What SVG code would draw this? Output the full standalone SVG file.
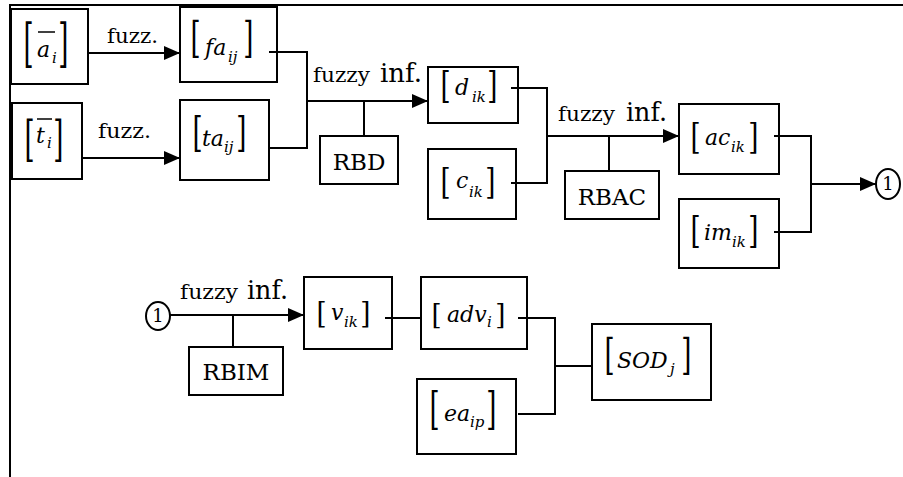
<svg xmlns="http://www.w3.org/2000/svg" width="903" height="477" viewBox="0 0 903 477">
<defs>
<style>
.bx{fill:none;stroke:#000;stroke-width:2}
.ln{fill:none;stroke:#000;stroke-width:2}
.bar{stroke:#000;stroke-width:1.5}
text{font-family:"DejaVu Serif",serif;fill:#000}
.m{font-style:italic;font-size:22px}
.s{font-size:15px}
.br{font-size:26px}
.lb{font-size:20px}
.inf{font-size:26px}
.rb{font-size:23px;text-anchor:middle}
.one{font-size:18px;text-anchor:middle}
</style>
<marker id="ah" markerUnits="userSpaceOnUse" markerWidth="16" markerHeight="14" refX="16" refY="7" orient="auto">
<path d="M0,0 L16,7 L0,14 z" fill="#000"/>
</marker>
</defs>
<rect width="903" height="477" fill="#fff"/>
<path class="ln" d="M10,477 V5 H903"/>

<g id="a_i">
<rect class="bx" x="11" y="9" width="77" height="75"/>
<text class="br" transform="translate(23.4,61.1) scale(1,2.026)">[</text>
<text class="br" transform="translate(58.2,61.1) scale(1,2.026)">]</text>
<line class="bar" x1="38" y1="32" x2="55" y2="32"/>
<text class="m" x="37" y="57">a<tspan class="s" x="52" y="63">i</tspan></text>
</g>

<g id="fa_ij">
<rect class="bx" x="180" y="7" width="97" height="75"/>
<text class="br" transform="translate(190.4,52.3) scale(1,1.681)">[</text>
<text class="br" transform="translate(243.2,52.3) scale(1,1.681)">]</text>
<text class="m" x="205" y="55">fa<tspan class="s" x="228" y="62">ij</tspan></text>
</g>

<g id="t_i">
<rect class="bx" x="12" y="103" width="70" height="76"/>
<text class="br" transform="translate(24.4,155.6) scale(1,1.897)">[</text>
<text class="br" transform="translate(53.2,155.6) scale(1,1.897)">]</text>
<line class="bar" x1="37" y1="119" x2="52" y2="119"/>
<text class="m" x="36" y="143">t<tspan class="s" x="47" y="148">i</tspan></text>
</g>

<g id="ta_ij">
<rect class="bx" x="180" y="100" width="89" height="80"/>
<text class="br" transform="translate(192.4,146.6) scale(1,1.595)">[</text>
<text class="br" transform="translate(236.2,146.6) scale(1,1.595)">]</text>
<text class="m" x="202" y="146">ta<tspan class="s" x="224" y="152">ij</tspan></text>
</g>

<g id="RBD">
<rect class="bx" x="320" y="136" width="78" height="48"/>
<text class="rb" x="359" y="170">RBD</text>
</g>

<g id="d_ik">
<rect class="bx" x="428" y="67" width="90" height="56"/>
<text class="br" transform="translate(440.4,98.2) scale(1,1.422)">[</text>
<text class="br" transform="translate(487.2,98.2) scale(1,1.422)">]</text>
<text class="m" x="455" y="95">d<tspan class="s" x="472" y="102">ik</tspan></text>
</g>

<g id="c_ik">
<rect class="bx" x="428" y="149" width="88" height="70"/>
<text class="br" transform="translate(440.4,193.5) scale(1,1.336)">[</text>
<text class="br" transform="translate(485.2,193.5) scale(1,1.336)">]</text>
<text class="m" x="456" y="188">c<tspan class="s" x="469" y="197">ik</tspan></text>
</g>

<g id="RBAC">
<rect class="bx" x="565" y="171" width="94" height="48"/>
<text class="rb" x="612" y="205">RBAC</text>
</g>

<g id="ac_ik">
<rect class="bx" x="679" y="104" width="100" height="70"/>
<text class="br" transform="translate(690.4,149.3) scale(1,1.379)">[</text>
<text class="br" transform="translate(748.2,149.3) scale(1,1.379)">]</text>
<text class="m" x="705" y="145">ac<tspan class="s" x="731" y="152">ik</tspan></text>
</g>

<g id="im_ik">
<rect class="bx" x="679" y="199" width="100" height="69"/>
<text class="br" transform="translate(690.4,243.2) scale(1,1.422)">[</text>
<text class="br" transform="translate(748.2,243.2) scale(1,1.422)">]</text>
<text class="m" x="704" y="240">im<tspan class="s" x="732" y="247">ik</tspan></text>
</g>

<g id="c1">
<ellipse class="bx" cx="888" cy="184" rx="12" ry="15"/>
<text class="one" x="888" y="190">1</text>
</g>

<g id="c2">
<ellipse class="bx" cx="158" cy="316" rx="12" ry="14"/>
<text class="one" x="158" y="322">1</text>
</g>

<g id="RBIM">
<rect class="bx" x="189" y="347" width="94" height="48"/>
<text class="rb" x="236" y="380">RBIM</text>
</g>

<g id="v_ik">
<rect class="bx" x="304" y="277" width="88" height="72"/>
<text class="br" transform="translate(316.4,323) scale(1,1.164)">[</text>
<text class="br" transform="translate(360.2,323) scale(1,1.164)">]</text>
<text class="m" x="331" y="320">v<tspan class="s" x="344" y="327">ik</tspan></text>
</g>

<g id="adv_i">
<rect class="bx" x="421" y="277" width="106" height="72"/>
<text class="br" transform="translate(431.4,324.3) scale(1,1.078)">[</text>
<text class="br" transform="translate(495.2,324.3) scale(1,1.078)">]</text>
<text class="m" x="447" y="322">adv<tspan class="s" x="487" y="327">i</tspan></text>
</g>

<g id="ea_ip">
<rect class="bx" x="417" y="379" width="99" height="75"/>
<text class="br" transform="translate(429.4,424.1) scale(1,1.724)">[</text>
<text class="br" transform="translate(486.2,424.1) scale(1,1.724)">]</text>
<text class="m" x="444" y="421">ea<tspan class="s" x="470" y="427">ip</tspan></text>
</g>

<g id="SOD_j">
<rect class="bx" x="592" y="324" width="119" height="76"/>
<text class="br" transform="translate(604.4,369.4) scale(1,1.638)">[</text>
<text class="br" transform="translate(681.2,369.4) scale(1,1.638)">]</text>
<text class="m" x="617" y="368">SOD<tspan class="s" x="670" y="374">j</tspan></text>
</g>

<g id="labels">
<text class="lb" x="107" y="43" textLength="51" lengthAdjust="spacingAndGlyphs">fuzz.</text>
<text class="lb" x="98" y="138" textLength="53" lengthAdjust="spacingAndGlyphs">fuzz.</text>
<text class="lb" x="313" y="82" textLength="57" lengthAdjust="spacingAndGlyphs">fuzzy</text>
<text class="inf" x="380" y="82" textLength="42" lengthAdjust="spacingAndGlyphs">inf.</text>
<text class="lb" x="558" y="121" textLength="57" lengthAdjust="spacingAndGlyphs">fuzzy</text>
<text class="inf" x="626" y="121" textLength="41" lengthAdjust="spacingAndGlyphs">inf.</text>
<text class="lb" x="180" y="299" textLength="58" lengthAdjust="spacingAndGlyphs">fuzzy</text>
<text class="inf" x="247" y="299" textLength="41" lengthAdjust="spacingAndGlyphs">inf.</text>
</g>

<g id="connectors">
<path class="ln" d="M88,53 H180" marker-end="url(#ah)"/>
<path class="ln" d="M82,158 H180" marker-end="url(#ah)"/>
<path class="ln" d="M269,52 H307 V148 H270"/>
<path class="ln" d="M307,101 H428" marker-end="url(#ah)"/>
<path class="ln" d="M364,101 V136"/>
<path class="ln" d="M511,88 H547 V183 H511"/>
<path class="ln" d="M547,136 H679" marker-end="url(#ah)"/>
<path class="ln" d="M609,136 V171"/>
<path class="ln" d="M774,136 H811 V232 H774"/>
<path class="ln" d="M811,184 H876" marker-end="url(#ah)"/>
<path class="ln" d="M170,315 H304" marker-end="url(#ah)"/>
<path class="ln" d="M233,315 V347"/>
<path class="ln" d="M385,318 H421"/>
<path class="ln" d="M518,318 H555 V414 H518"/>
<path class="ln" d="M555,366 H592"/>
</g>
</svg>
